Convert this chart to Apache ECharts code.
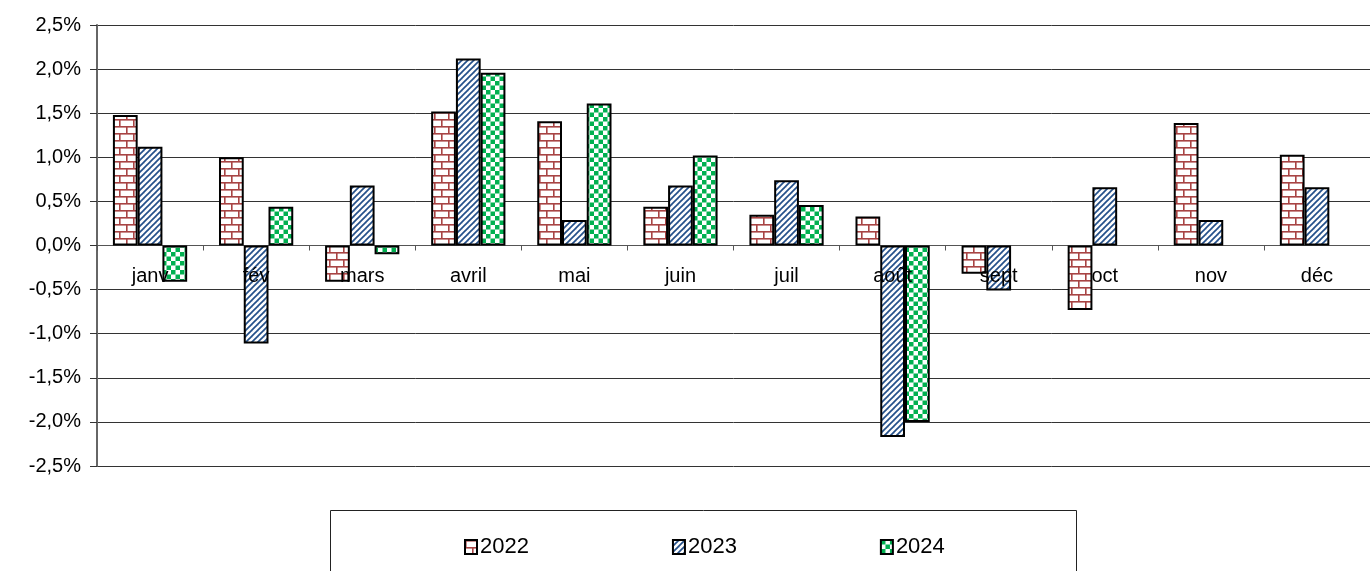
<!DOCTYPE html>
<html>
<head>
<meta charset="utf-8">
<script src="https://cdn.jsdelivr.net/npm/echarts@6/dist/echarts.min.js"></script>
<style>
  html, body { margin: 0; padding: 0; background: #fff; }
  #chart { width: 1370px; height: 571px; }
</style>
</head>
<body>
<div id="chart"></div>
<script>
// mois
var months = ['janv', 'fév', 'mars', 'avril', 'mai', 'juin', 'juil', 'août', 'sept', 'oct', 'nov', 'déc'];
// variations mensuelles en %
var v2022 = [1.48, 1.00, -0.41, 1.52, 1.41, 0.44, 0.35, 0.33, -0.32, -0.73, 1.39, 1.03];
var v2023 = [1.12, -1.11, 0.68, 2.12, 0.29, 0.68, 0.74, -2.17, -0.51, 0.66, 0.29, 0.66];
var v2024 = [-0.41, 0.44, -0.10, 1.96, 1.61, 1.02, 0.46, -2.00, null, null, null, null];
var yTicks = { min: -2.5, max: 2.5, step: 0.5 };

// motifs de remplissage
function brick() {
  var c = document.createElement('canvas');
  c.width = 14; c.height = 14;
  var g = c.getContext('2d');
  g.fillStyle = '#fff'; g.fillRect(0, 0, 14, 14);
  g.fillStyle = '#a84444';
  g.fillRect(0, 0, 14, 1.6);
  g.fillRect(0, 7, 14, 1.6);
  g.fillRect(0, 0, 1.6, 7);
  g.fillRect(7, 7, 1.6, 7);
  return c;
}
function stripes() {
  var c = document.createElement('canvas');
  c.width = 6; c.height = 6;
  var g = c.getContext('2d');
  g.fillStyle = '#fff'; g.fillRect(0, 0, 6, 6);
  g.strokeStyle = '#24508a';
  g.lineWidth = 1.7;
  for (var k = -6; k <= 12; k += 6) {
    g.beginPath();
    g.moveTo(k - 1, 7);
    g.lineTo(k + 7, -1);
    g.stroke();
  }
  return c;
}
function checker() {
  var c = document.createElement('canvas');
  c.width = 9; c.height = 9;
  var g = c.getContext('2d');
  g.fillStyle = '#fff'; g.fillRect(0, 0, 9, 9);
  g.fillStyle = '#00b050';
  g.fillRect(0, 0, 4.5, 4.5);
  g.fillRect(4.5, 4.5, 4.5, 4.5);
  return c;
}

var chart = echarts.init(document.getElementById('chart'));
var font = 'Liberation Sans, Arial, sans-serif';

function mkSeries(name, data, img) {
  return {
    name: name,
    type: 'bar',
    data: data,
    barGap: '0%',
    barCategoryGap: '30%',
    itemStyle: {
      color: { image: img, repeat: 'repeat' },
      borderColor: '#000',
      borderWidth: 2
    },
    emphasis: { disabled: true }
  };
}

var option = {
  animation: false,
  grid: { left: 97, right: 0, top: 25, bottom: 105 },
  graphic: [{
    type: 'rect',
    shape: { x: 330.5, y: 510.5, width: 746, height: 80 },
    style: { fill: 'none', stroke: '#222', lineWidth: 1 },
    z: -1
  }],
  legend: {
    left: 459,
    top: 531,
    itemWidth: 12,
    itemHeight: 14,
    itemGap: 143,
    icon: 'rect',
    textStyle: { fontFamily: font, fontSize: 22, color: '#000', padding: [0, 0, 0, -2] },
    itemStyle: { borderColor: '#000', borderWidth: 2 }
  },
  xAxis: [{
    type: 'category',
    data: months,
    axisLine: { onZero: true, lineStyle: { color: '#555', width: 1 } },
    axisTick: { show: true, length: 5, lineStyle: { color: '#555' } },
    axisLabel: { show: false }
  }, {
    // étiquettes des mois, placées sous la ligne du zéro, par-dessus les barres
    type: 'category',
    data: months,
    position: 'bottom',
    offset: -221,
    z: 10,
    axisLine: { show: false, onZero: false },
    axisTick: { show: false },
    axisLabel: { fontFamily: font, fontSize: 20, color: '#000', margin: 21 }
  }],
  yAxis: {
    type: 'value',
    min: yTicks.min,
    max: yTicks.max,
    interval: yTicks.step,
    axisLine: { show: true, lineStyle: { color: '#666', width: 2 } },
    axisTick: { show: true, length: 7, lineStyle: { color: '#333' } },
    splitLine: { lineStyle: { color: '#333', width: 1 } },
    axisLabel: {
      fontFamily: font, fontSize: 20, color: '#000', margin: 16,
      formatter: function (v) {
        var s = Math.abs(v) < 1e-9 ? '0.0' : v.toFixed(1);
        return s.replace('.', ',') + '%';
      }
    }
  },
  series: [
    mkSeries('2022', v2022, brick()),
    mkSeries('2023', v2023, stripes()),
    mkSeries('2024', v2024, checker())
  ]
};
chart.setOption(option);
</script>
</body>
</html>
